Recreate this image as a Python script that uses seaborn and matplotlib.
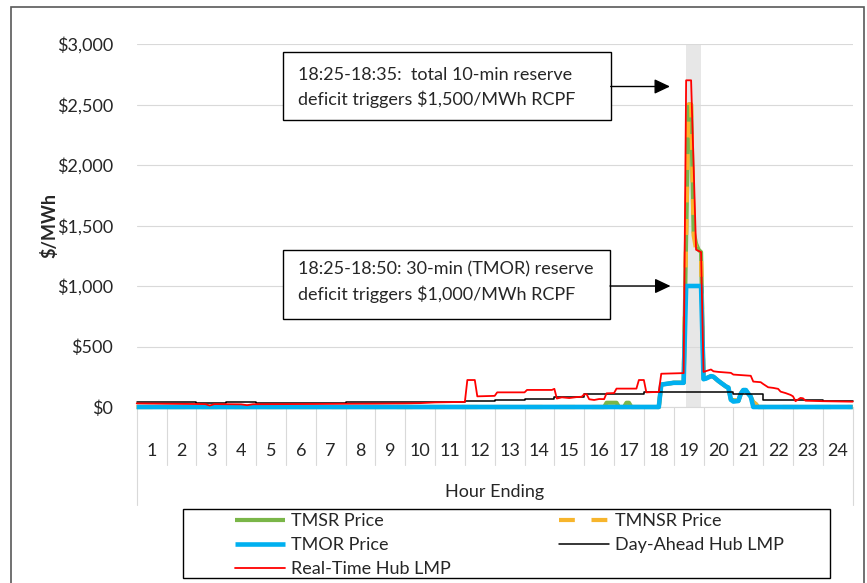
import matplotlib
matplotlib.use("Agg")
import matplotlib.pyplot as plt
import matplotlib.transforms as mtransforms
from matplotlib.patches import Rectangle
import seaborn as sns
import pandas as pd

# ---------------- data (hours since midnight, $/MWh) ----------------
rt_t = [0, 1.0, 2.3, 2.45, 2.6, 3.5, 3.7, 3.9, 5.0, 6.0, 7.0, 8.0, 9.0, 9.5, 10.0,
        11.0, 11.083, 11.333, 11.417, 12.0, 12.083, 13.0, 13.083, 13.917, 14.0,
        14.083, 14.25, 14.5, 14.75, 14.917, 15.0, 15.083, 15.167, 15.333, 15.5,
        15.667, 15.75, 16.0, 16.083, 16.75, 16.833, 17.0, 17.083, 17.5, 17.583,
        18.333, 18.417, 18.583, 18.667, 18.75, 18.917, 19.0, 19.25, 19.333, 19.5,
        19.917, 20.0, 20.583, 20.667, 20.917, 21.0, 21.167, 21.333, 21.5, 21.583,
        21.75, 21.917, 22.0, 22.083, 22.25, 22.333, 22.417, 23.0, 24.0]
rt_v = [30, 27, 24, 12, 24, 22, 15, 23, 24, 25, 27, 28, 30, 32, 38,
        42, 223, 223, 88, 92, 121, 121, 141, 141, 150,
        70, 80, 74, 82, 85, 105, 105, 64, 58, 66,
        65, 113, 115, 152, 152, 223, 223, 121, 125, 275,
        280, 2700, 2700, 2000, 1300, 1280, 290, 310, 295, 290,
        282, 268, 258, 210, 205, 190, 163, 158, 150, 127,
        115, 100, 88, 48, 75, 72, 52, 48, 44]

tmsr_t = [0, 15.667, 15.75, 16.083, 16.167, 16.333, 16.417, 16.5, 16.583, 17.5,
          17.583, 18.0, 18.333, 18.417, 18.5, 18.583, 18.667, 18.75, 18.833, 18.917,
          19.0, 19.25, 19.333, 19.5, 19.75, 19.833, 19.917, 20.167, 20.25, 20.333,
          20.417, 20.5, 20.583, 20.667, 20.75, 20.833, 24.0]
tmsr_v = [0, 0, 35, 35, 0, 0, 35, 35, 0, 0,
          185, 200, 200, 1400, 2500, 2500, 1450, 1350, 1300, 1280,
          230, 255, 250, 215, 170, 160, 60, 50, 110, 140,
          140, 110, 85, 40, 25, 0, 0]

tmnsr_t = [0, 17.5, 17.583, 18.0, 18.333, 18.417, 18.5, 18.583, 18.667, 18.75,
           18.833, 18.917, 19.0, 19.25, 19.333, 19.5, 19.75, 19.833, 19.917, 20.167,
           20.25, 20.333, 20.417, 20.5, 20.583, 20.667, 20.75, 20.833, 24.0]
tmnsr_v = [0, 0, 185, 200, 200, 1400, 2500, 2500, 1420, 1300,
           1230, 1230, 230, 255, 250, 215, 170, 160, 60, 50,
           110, 140, 140, 110, 85, 40, 25, 0, 0]

tmor_t = [0, 17.5, 17.583, 18.0, 18.333, 18.417, 18.917, 19.0, 19.083, 19.25,
          19.333, 19.5, 19.583, 19.75, 19.833, 19.917, 20.0, 20.167, 20.25, 20.333,
          20.417, 20.5, 20.583, 20.667, 24.0]
tmor_v = [0, 0, 185, 200, 200, 1000, 1000, 230, 235, 255,
          250, 215, 200, 170, 160, 60, 45, 50, 110, 140,
          140, 110, 85, 0, 0]

# Day-ahead hub LMP, hourly (hour ending 1..24)
da_v = [40, 38, 37, 38, 36, 36, 37, 38, 38, 44, 45, 46,
        60, 62, 82, 108, 110, 122, 127, 127, 108, 58, 55, 50]

hour_labels = [str(h) for h in range(1, 25)]
y_ticks = [0, 500, 1000, 1500, 2000, 2500, 3000]
y_labels = ["$0", "$500", "$1,000", "$1,500", "$2,000", "$2,500", "$3,000"]

shade_start, shade_end = 18.417, 18.9

note1 = "18:25-18:35:  total 10-min reserve\ndeficit triggers $1,500/MWh RCPF"
note2 = "18:25-18:50: 30-min (TMOR) reserve\ndeficit triggers $1,000/MWh RCPF"

# ---------------- styling ----------------
sns.set_theme(style="white")
plt.rcParams["font.family"] = ["Lato", "DejaVu Sans"]
FS = 13

C_GREEN = "#7AB648"
C_ORANGE = "#F7B52C"
C_BLUE = "#00B0F0"
C_RED = "#FF0000"
C_BLACK = "#000000"
C_GRID = "#D9D9D9"

W, H = 867, 583
fig = plt.figure(figsize=(W / 100, H / 100), dpi=100)
fx = lambda px: px / W
fy = lambda py: 1 - py / H

AX_L, AX_R, AX_T, AX_B = 136.7, 852.7, 44.0, 407.0
ax = fig.add_axes([fx(AX_L), fy(AX_B), (AX_R - AX_L) / W, (AX_B - AX_T) / H])

ax.axvspan(shade_start, shade_end, color="#E7E7E7", zorder=0, lw=0)

df_da = pd.DataFrame({"t": list(range(25)), "v": da_v + [da_v[-1]]})

sns.lineplot(x=tmsr_t, y=tmsr_v, ax=ax, color=C_GREEN, lw=3.0, label="TMSR Price",
             legend=False, clip_on=False, zorder=3, solid_capstyle="butt")
sns.lineplot(x=tmnsr_t, y=tmnsr_v, ax=ax, color=C_ORANGE, lw=3.0, label="TMNSR Price",
             legend=False, clip_on=False, zorder=4, linestyle=(0, (3.8, 4.0)),
             dash_capstyle="butt")
sns.lineplot(x=tmor_t, y=tmor_v, ax=ax, color=C_BLUE, lw=3.3, label="TMOR Price",
             legend=False, clip_on=False, zorder=5, solid_capstyle="butt")
sns.lineplot(data=df_da, x="t", y="v", ax=ax, color=C_BLACK, lw=1.1,
             label="Day-Ahead Hub LMP", legend=False, clip_on=False, zorder=6,
             drawstyle="steps-post")
sns.lineplot(x=rt_t, y=rt_v, ax=ax, color=C_RED, lw=1.3, label="Real-Time Hub LMP",
             legend=False, clip_on=False, zorder=7)

ax.set_xlim(0, 24)
ax.set_ylim(0, 3000)

# y axis
ax.set_yticks(y_ticks)
ax.set_yticklabels(y_labels, fontsize=FS)
ax.grid(axis="y", color=C_GRID, lw=0.8)
ax.grid(axis="x", visible=False)
ax.set_axisbelow(True)
ax.tick_params(axis="y", length=0, pad=17)
ax.set_ylabel("$/MWh", fontsize=FS, fontweight="bold")
ax.yaxis.label.set_va("center")
ax.yaxis.set_label_coords((49 - AX_L) / (AX_R - AX_L), 0.5)

# x axis (categories)
centers = [h + 0.5 for h in range(24)]
ax.set_xticks(centers)
ax.set_xticklabels(hour_labels, fontsize=FS)
ax.tick_params(axis="x", length=0, pad=26)
ax.set_xlabel("Hour Ending", fontsize=FS)
ax.xaxis.set_label_coords(0.5, (AX_B - 484) / (AX_B - AX_T))

for s in ["left", "right", "top"]:
    ax.spines[s].set_visible(False)
ax.spines["bottom"].set_color(C_GRID)
ax.spines["bottom"].set_linewidth(0.8)

trans = mtransforms.blended_transform_factory(ax.transData, ax.transAxes)
short = (AX_B - 465) / (AX_B - AX_T)
long_ = (AX_B - 505) / (AX_B - AX_T)
for k in range(25):
    y1 = long_ if k in (0, 24) else short
    ax.plot([k, k], [0, y1], transform=trans, clip_on=False, color=C_GRID, lw=0.8,
            zorder=1)

# annotation boxes
def axfx(px):
    return (px - AX_L) / (AX_R - AX_L)

def axfy(py):
    return (AX_B - py) / (AX_B - AX_T)

for (l, r, t, b, txt, ty, arrow_y, tip_x) in [
        (282.7, 610.7, 51.7, 120.0, note1, 87.4, 86.5, 670.0),
        (282.7, 610.0, 250.0, 319.0, note2, 282.5, 286.0, 670.5)]:
    ax.add_patch(Rectangle((axfx(l), axfy(b)), axfx(r) - axfx(l), axfy(t) - axfy(b),
                           transform=ax.transAxes, fill=True, facecolor="white",
                           edgecolor="black", lw=1.0, zorder=8, clip_on=False))
    ax.text(axfx(298), axfy(ty), txt, transform=ax.transAxes, ha="left", va="center",
            fontsize=FS, linespacing=1.55, zorder=9)
    ax.annotate("", xy=(axfx(tip_x), axfy(arrow_y)), xycoords="axes fraction",
                xytext=(axfx(r), axfy(arrow_y)), textcoords="axes fraction",
                arrowprops=dict(arrowstyle="-|>,head_length=0.95,head_width=0.45",
                                color="black", lw=1.0, shrinkA=0, shrinkB=0,
                                mutation_scale=10),
                zorder=9)

# legend
handles = {l.get_label(): l for l in ax.lines}
col1 = ["TMSR Price", "TMOR Price", "Real-Time Hub LMP"]
col2 = ["TMNSR Price", "Day-Ahead Hub LMP"]
leg_kw = dict(loc="upper left", frameon=False, fontsize=FS, borderpad=0,
              borderaxespad=0, handlelength=2.75, handletextpad=0.35,
              labelspacing=0.45, bbox_transform=fig.transFigure)
leg1 = ax.legend([handles[n] for n in col1], col1, bbox_to_anchor=(fx(235), fy(513)),
                 **leg_kw)
ax.add_artist(leg1)
leg2 = ax.legend([handles[n] for n in col2], col2, bbox_to_anchor=(fx(559), fy(513)),
                 **leg_kw)

fig.patches.append(Rectangle((fx(183), fy(578)), (830 - 183) / W, (578 - 509) / H,
                             transform=fig.transFigure, fill=False,
                             edgecolor="black", lw=1.0))
fig.patches.append(Rectangle((fx(11), fy(600)), (864 - 11) / W, (600 - 7) / H,
                             transform=fig.transFigure, fill=False,
                             edgecolor="#595959", lw=1.2))

fig.savefig("out.png", dpi=100)
